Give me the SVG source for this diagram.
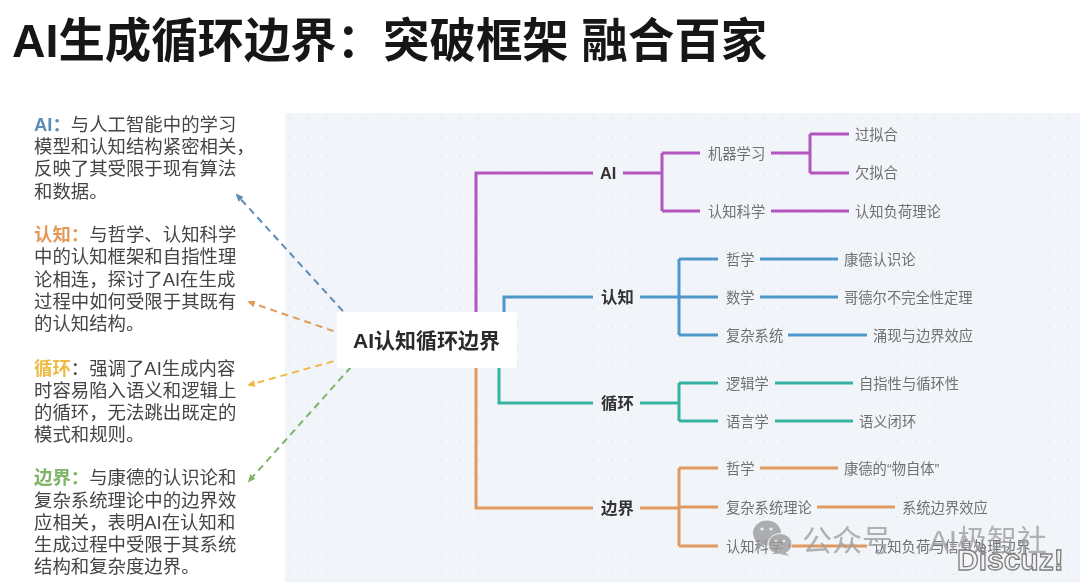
<svg xmlns="http://www.w3.org/2000/svg" width="1080" height="582" viewBox="0 0 1080 582">
<style>
text{font-family:"Liberation Sans","Noto Sans CJK SC",sans-serif}
.title{font-size:46.4px;font-weight:700;fill:#151515}
.p{font-size:18.4px;fill:#444}
.b{font-weight:700}
.r{font-size:21px;font-weight:700;fill:#2a2a2a}
.m{font-size:16.4px;font-weight:700;fill:#333}
.n{font-size:14.3px;fill:#707070}
.c{fill:none;stroke-width:3;stroke-linejoin:miter}
.pu{stroke:#b254c0}.bl{stroke:#4f97cb}.te{stroke:#35b3a0}.or{stroke:#e09a60}
.d{fill:none;stroke-width:2;stroke-dasharray:7 5}
.w{fill:#9c9c9c}
</style>
<defs>
<filter id="soft" x="-5%" y="-5%" width="110%" height="110%"><feGaussianBlur stdDeviation="0.65"/></filter>
<pattern id="dots" width="19" height="19" patternUnits="userSpaceOnUse"><circle cx="4" cy="4" r="0.8" fill="#dde2e8"/></pattern>
<marker id="ab" markerUnits="userSpaceOnUse" markerWidth="10" markerHeight="10" refX="6" refY="4" orient="auto"><path d="M0 0.5L8 4L0 7.5z" fill="#5b8db8"/></marker>
<marker id="ao" markerUnits="userSpaceOnUse" markerWidth="10" markerHeight="10" refX="6" refY="4" orient="auto"><path d="M0 0.5L8 4L0 7.5z" fill="#e39a58"/></marker>
<marker id="ay" markerUnits="userSpaceOnUse" markerWidth="10" markerHeight="10" refX="6" refY="4" orient="auto"><path d="M0 0.5L8 4L0 7.5z" fill="#eebb44"/></marker>
<marker id="ag" markerUnits="userSpaceOnUse" markerWidth="10" markerHeight="10" refX="6" refY="4" orient="auto"><path d="M0 0.5L8 4L0 7.5z" fill="#7fb368"/></marker>
</defs>
<rect width="1080" height="582" fill="#fff"/>
<g filter="url(#soft)">
<text class="title" x="12" y="57">AI生成循环边界：突破框架 融合百家</text>
<rect id="panel" x="285" y="113" width="795" height="469" fill="#f1f4f8"/>
<rect x="285" y="113" width="795" height="469" fill="url(#dots)"/>
<g id="connectors">
<path class="c pu" d="M476 320V173H593M623 173H662M662 153V211M662 153H700M662 211H700M771 153H810M810 134V173M810 134H849M810 173H849M771 211H849"/>
<path class="c bl" d="M504 320V297H593M640 297H718M679 259V335M679 259H718M679 335H718M760 259H838M760 297H838M788 335H867"/>
<path class="c te" d="M499 360V403H593M640 403H679M679 383V421M679 383H718M679 421H718M775 383H853M775 421H853"/>
<path class="c or" d="M476 360V508H593M640 508H679M679 468V546M679 468H718M679 507H718M679 546H718M760 468H838M817 507H895M788 546H867"/>
<path class="d" stroke="#5b8db8" marker-end="url(#ab)" d="M351 320L237 195"/>
<path class="d" stroke="#e39a58" marker-end="url(#ao)" d="M345 335L249 302"/>
<path class="d" stroke="#eebb44" marker-end="url(#ay)" d="M345 358L249 385"/>
<path class="d" stroke="#7fb368" marker-end="url(#ag)" d="M351 367L249 481"/>
</g>
<g id="root"><rect x="337" y="312" width="180" height="56" fill="#fff"/><text class="r" x="353" y="348">AI认知循环边界</text></g>
<g id="desc-ai"><text class="p"><tspan x="34" y="131"><tspan class="b" fill="#5b8db8">AI：</tspan>与人工智能中的学习</tspan><tspan x="34" y="153">模型和认知结构紧密相关，</tspan><tspan x="34" y="175">反映了其受限于现有算法</tspan><tspan x="34" y="198">和数据。</tspan></text></g>
<g id="desc-cog"><text class="p"><tspan x="34" y="241"><tspan class="b" fill="#e39a58">认知：</tspan>与哲学、认知科学</tspan><tspan x="34" y="263">中的认知框架和自指性理</tspan><tspan x="34" y="286">论相连，探讨了AI在生成</tspan><tspan x="34" y="308">过程中如何受限于其既有</tspan><tspan x="34" y="330">的认知结构。</tspan></text></g>
<g id="desc-loop"><text class="p"><tspan x="34" y="375"><tspan class="b" fill="#eebb44">循环</tspan>：强调了AI生成内容</tspan><tspan x="34" y="397">时容易陷入语义和逻辑上</tspan><tspan x="34" y="419">的循环，无法跳出既定的</tspan><tspan x="34" y="441">模式和规则。</tspan></text></g>
<g id="desc-bound"><text class="p"><tspan x="34" y="484"><tspan class="b" fill="#7fb368">边界：</tspan>与康德的认识论和</tspan><tspan x="34" y="507">复杂系统理论中的边界效</tspan><tspan x="34" y="529">应相关，表明AI在认知和</tspan><tspan x="34" y="551">生成过程中受限于其系统</tspan><tspan x="34" y="573">结构和复杂度边界。</tspan></text></g>
<g id="n-ai"><text class="m" x="600" y="179">AI</text></g>
<g id="n-ml"><text class="n" x="708" y="159">机器学习</text></g>
<g id="n-over"><text class="n" x="855" y="140">过拟合</text></g>
<g id="n-under"><text class="n" x="855" y="178">欠拟合</text></g>
<g id="n-cs"><text class="n" x="708" y="217">认知科学</text></g>
<g id="n-load"><text class="n" x="855" y="217">认知负荷理论</text></g>
<g id="n-cog"><text class="m" x="601" y="303">认知</text></g>
<g id="n-phil"><text class="n" x="726" y="265">哲学</text></g>
<g id="n-kant"><text class="n" x="844" y="265">康德认识论</text></g>
<g id="n-math"><text class="n" x="726" y="303">数学</text></g>
<g id="n-godel"><text class="n" x="844" y="303">哥德尔不完全性定理</text></g>
<g id="n-sys"><text class="n" x="726" y="341">复杂系统</text></g>
<g id="n-emerge"><text class="n" x="873" y="341">涌现与边界效应</text></g>
<g id="n-loop"><text class="m" x="601" y="409">循环</text></g>
<g id="n-logic"><text class="n" x="726" y="389">逻辑学</text></g>
<g id="n-self"><text class="n" x="859" y="389">自指性与循环性</text></g>
<g id="n-ling"><text class="n" x="726" y="427">语言学</text></g>
<g id="n-closure"><text class="n" x="859" y="427">语义闭环</text></g>
<g id="n-bound"><text class="m" x="601" y="514">边界</text></g>
<g id="n-phil2"><text class="n" x="726" y="474">哲学</text></g>
<g id="n-thing"><text class="n" x="844" y="474">康德的“物自体”</text></g>
<g id="n-sys2"><text class="n" x="726" y="513">复杂系统理论</text></g>
<g id="n-sysb"><text class="n" x="902" y="513">系统边界效应</text></g>
<g id="n-cs2"><text class="n" x="726" y="552">认知科学</text></g>
<g id="n-info"><text class="n" x="873" y="552">认知负荷与信息处理边界</text></g>
<g id="watermark" opacity="0.8">
<ellipse class="w" cx="767" cy="533" rx="14" ry="12.5"/>
<path class="w" d="M757 542L756 549L764 545z"/>
<ellipse class="w" cx="780" cy="544" rx="12" ry="10.5" stroke="#f1f4f8"/>
<path class="w" d="M785 552L789 556L781 554z"/>
<circle cx="762" cy="529" r="1.6" fill="#eee"/><circle cx="771" cy="529" r="1.6" fill="#eee"/>
<circle cx="776" cy="541" r="1.3" fill="#eee"/><circle cx="784" cy="541" r="1.3" fill="#eee"/>
<text x="802" y="551" font-size="30" fill="#a0a0a0" word-spacing="5">公众号 · AI极智社</text>
</g>
<text x="957" y="570" font-size="30" font-weight="700" fill="#f2f2f2" stroke="#7d7d7d" stroke-width="1.3">Discuz!</text>
</g>
</svg>
